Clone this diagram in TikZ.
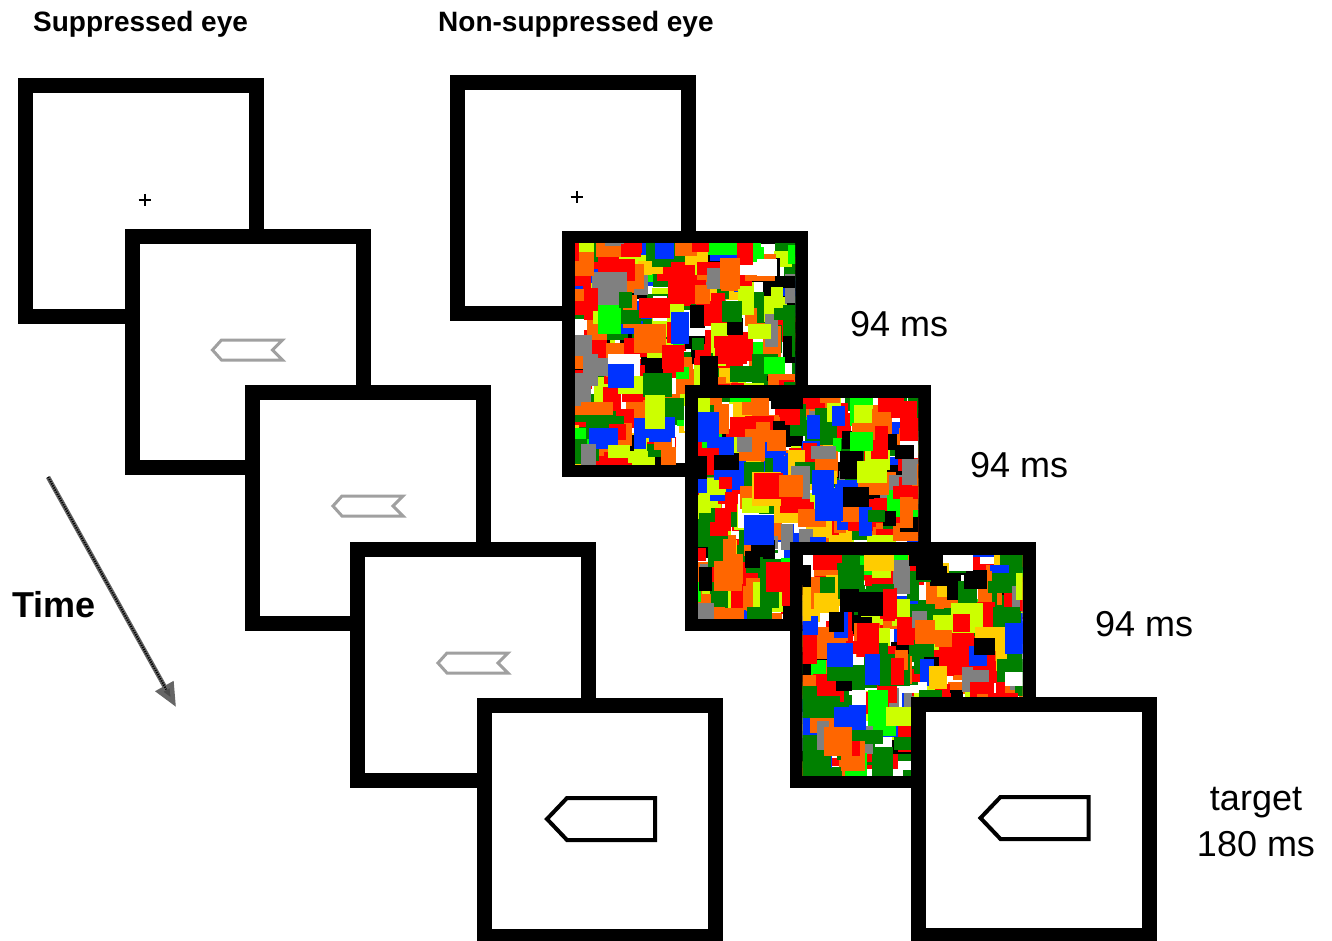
\documentclass[tikz,border=0pt]{standalone}
\usepackage{fontspec}
\setmainfont{Liberation Sans}
\usetikzlibrary{arrows.meta, calc}
\usepackage{xcolor}
\definecolor{MondRed}{HTML}{FF0000}
\definecolor{MondGreen}{HTML}{008000}
\definecolor{MondOrange}{HTML}{FF6600}
\definecolor{MondLime}{HTML}{CCFF00}
\definecolor{MondBlue}{HTML}{0033FF}
\definecolor{MondGray}{HTML}{808080}
\definecolor{MondBright}{HTML}{00FF00}
\definecolor{MondYellow}{HTML}{FFCC00}
\definecolor{CueGray}{HTML}{A0A0A0}
\pgfmathdeclarerandomlist{mondcolours}{{MondRed}{MondRed}{MondRed}{MondRed}{MondRed}{MondGreen}{MondGreen}{MondGreen}{MondGreen}{MondGreen}{MondOrange}{MondOrange}{MondOrange}{MondOrange}{MondLime}{MondLime}{MondBlue}{MondBlue}{black}{black}{white}{MondGray}{MondBright}{MondYellow}}
\tikzset{
    % screens - thick black frames
    screen/.style={
        rectangle,
        draw=black,
        fill=white,
        line width=15pt,
        minimum size=231pt,
        inner sep=0pt
    },
    maskscreen/.style={
        rectangle,
        fill=black,
        minimum size=246pt,
        inner sep=0pt
    },
    % stimuli
    cuearrow/.style={
        draw=CueGray,
        line width=3pt
    },
    targetarrow/.style={
        draw=black,
        line width=4pt
    },
    fixation/.style={
        draw=black,
        line width=2pt
    },
    % texts
    eyelabel/.style={
        font=\bfseries\fontsize{28}{34}\selectfont,
        inner sep=0pt,
        anchor=base west
    },
    timing/.style={
        font=\fontsize{36}{46}\selectfont,
        inner sep=0pt,
        anchor=base west
    },
    timearrow/.style={
        draw=black!60,
        line width=4.5pt,
        -{Triangle[length=24pt, width=20pt, fill=black!70]},
        postaction={draw=black, line width=2pt, dash pattern=on 1.2pt off 1.2pt, -, shorten >=20pt}
    }
}
\newcommand{\fixcross}[1]{\draw[fixation] ($(#1)+(-2,-1)$) -- ++(12,0) ($(#1)+(4,-7)$) -- ++(0,12);}
\newcommand{\cueshape}[1]{\draw[cuearrow] ($(#1)+(-35,-2)$) -- ++(9,-10) -- ++(61,0) -- ++(-10,10) -- ++(10,10) -- ++(-61,0) -- cycle;}
\newcommand{\targetshape}[1]{\draw[targetarrow] ($(#1)+(-53,-2)$) -- ++(20,-21) -- ++(88,0) -- ++(0,42) -- ++(-88,0) -- cycle;}
\newcommand{\mondrian}[2]{%
    \begin{scope}
        \clip ($(#1)+(-110,-110)$) rectangle ($(#1)+(110,110)$);
        \fill[white] ($(#1)+(-110,-110)$) rectangle ($(#1)+(110,110)$);
        \pgfmathsetseed{#2}
        \foreach \k in {1,...,420}{
            \pgfmathrandomitem{\patch}{mondcolours}
            \pgfmathsetmacro{\px}{random(0,240)-128}
            \pgfmathsetmacro{\py}{random(0,240)-128}
            \pgfmathsetmacro{\pw}{random(12,32)}
            \pgfmathsetmacro{\ph}{random(12,34)}
            \fill[\patch] ($(#1)+(\px,\py)$) rectangle ++(\pw,\ph);
        }
    \end{scope}}

\begin{document}
\begin{tikzpicture}[x=1pt, y=-1pt]
    \useasboundingbox (0,0) rectangle (1332,941);

    \node[eyelabel] (hsup) at (33,32) {Suppressed eye};
    \node[eyelabel] (hnon) at (438,32) {Non-suppressed eye};

    % suppressed eye
    \node[screen] (l1) at (140.5,201) {};
    \fixcross{l1}
    \node[screen] (l2) at (247.5,352) {};
    \cueshape{l2}
    \node[screen] (l3) at (368,508) {};
    \cueshape{l3}
    \node[screen] (l4) at (473,665) {};
    \cueshape{l4}
    \node[screen] (l5) at (600,821) {};
    \targetshape{l5}

    % non-suppressed eye
    \node[screen] (r1) at (572.5,198) {};
    \fixcross{r1}
    \node[maskscreen] (r2) at (685,354) {};
    \mondrian{r2}{11}
    \node[maskscreen] (r3) at (808,508) {};
    \mondrian{r3}{23}
    \node[maskscreen] (r4) at (912.5,665) {};
    \mondrian{r4}{37}
    \node[screen] (r5) at (1033.5,820) {};
    \targetshape{r5}

    \node[timing] (d1) at (850,336) {94 ms};
    \node[timing] (d2) at (970,477) {94 ms};
    \node[timing] (d3) at (1095,636) {94 ms};
    \node[timing, anchor=base, align=center] (d4) at (1256,856) {target\\180 ms};

    % time axis
    \node[timing, font=\bfseries\fontsize{36}{46}\selectfont] (time) at (12,617) {Time};
    \coordinate (tstart) at (48,477);
    \coordinate (tend) at (176,707);
    \draw[timearrow] (tstart) -- (tend);
\end{tikzpicture}
\end{document}
